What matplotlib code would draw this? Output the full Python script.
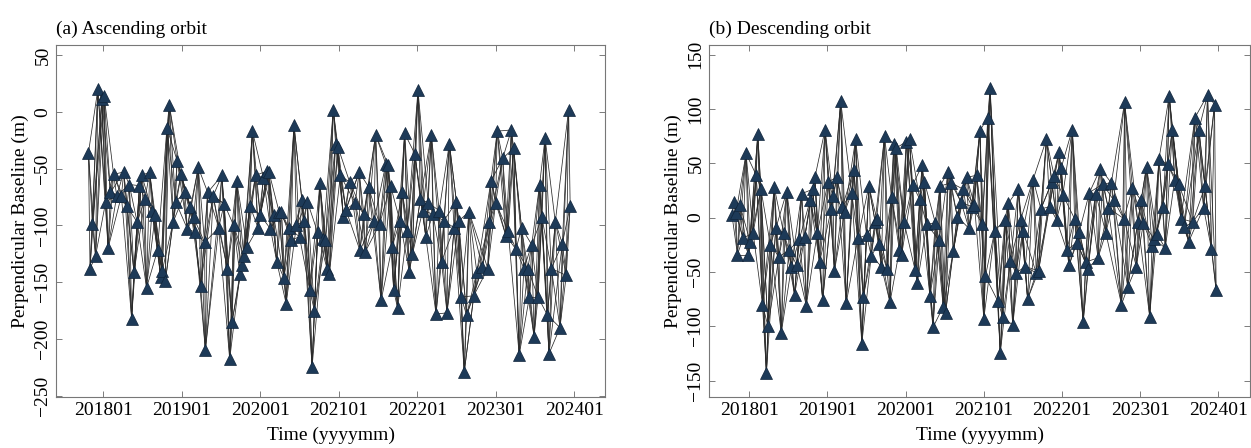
import numpy as np
import matplotlib.pyplot as plt

plt.rcParams['font.family'] = ['Liberation Serif', 'DejaVu Serif']
plt.rcParams['font.size'] = 14

# acquisition dates (decimal year) and perpendicular baselines (m), ascending orbit
asc_time = [2017.81, 2017.83, 2017.86, 2017.90, 2017.93, 2017.98, 2018.01, 2018.03, 2018.06, 2018.09,
            2018.13, 2018.17, 2018.23, 2018.26, 2018.30, 2018.33, 2018.36, 2018.39, 2018.43, 2018.46,
            2018.49, 2018.53, 2018.55, 2018.59, 2018.62, 2018.66, 2018.69, 2018.73, 2018.75, 2018.79,
            2018.81, 2018.84, 2018.89, 2018.92, 2018.94, 2018.99, 2019.04, 2019.07, 2019.11, 2019.15,
            2019.17, 2019.21, 2019.24, 2019.29, 2019.30, 2019.33, 2019.40, 2019.47, 2019.51, 2019.54,
            2019.58, 2019.61, 2019.64, 2019.66, 2019.70, 2019.74, 2019.77, 2019.79, 2019.83, 2019.87,
            2019.90, 2019.94, 2019.97, 2020.00, 2020.04, 2020.09, 2020.11, 2020.13, 2020.17, 2020.21,
            2020.24, 2020.27, 2020.30, 2020.33, 2020.36, 2020.39, 2020.43, 2020.46, 2020.50, 2020.53,
            2020.56, 2020.60, 2020.63, 2020.66, 2020.69, 2020.73, 2020.76, 2020.80, 2020.83, 2020.85,
            2020.88, 2020.93, 2020.96, 2020.99, 2021.02, 2021.06, 2021.09, 2021.14, 2021.21, 2021.26,
            2021.27, 2021.32, 2021.34, 2021.38, 2021.45, 2021.47, 2021.52, 2021.54, 2021.60, 2021.63,
            2021.66, 2021.68, 2021.70, 2021.75, 2021.78, 2021.81, 2021.84, 2021.87, 2021.90, 2021.94,
            2021.97, 2022.01, 2022.04, 2022.07, 2022.11, 2022.14, 2022.18, 2022.20, 2022.24, 2022.28,
            2022.31, 2022.34, 2022.38, 2022.41, 2022.47, 2022.50, 2022.53, 2022.56, 2022.60, 2022.63,
            2022.66, 2022.72, 2022.76, 2022.83, 2022.90, 2022.92, 2022.94, 2023.00, 2023.02, 2023.09,
            2023.13, 2023.16, 2023.20, 2023.23, 2023.26, 2023.30, 2023.33, 2023.36, 2023.41, 2023.43,
            2023.46, 2023.49, 2023.54, 2023.56, 2023.59, 2023.63, 2023.66, 2023.68, 2023.71, 2023.76,
            2023.82, 2023.85, 2023.90, 2023.93, 2023.95]
asc_bperp = [-36, -138, -99, -127, 20, 11, 14, -79, -120, -71,
             -55, -74, -74, -53, -83, -64, -182, -141, -97, -65,
             -56, -77, -155, -53, -87, -91, -122, -145, -140, -149,
             -14, 6, -97, -79, -43, -55, -71, -103, -84, -93,
             -106, -49, -153, -115, -210, -71, -74, -102, -56, -81,
             -138, -218, -185, -100, -61, -143, -135, -127, -119, -83,
             -17, -56, -102, -91, -58, -52, -53, -103, -91, -132,
             -88, -88, -146, -169, -102, -113, -12, -100, -110, -78,
             -96, -79, -157, -225, -175, -106, -63, -112, -113, -138,
             -143, 2, -28, -31, -56, -93, -86, -62, -80, -53,
             -122, -90, -123, -66, -96, -20, -99, -166, -46, -47,
             -65, -119, -157, -173, -96, -71, -19, -105, -141, -125,
             -37, 19, -77, -87, -110, -80, -20, -90, -178, -87,
             -132, -96, -177, -28, -102, -79, -96, -163, -229, -179,
             -88, -162, -141, -137, -138, -97, -61, -80, -17, -41,
             -109, -105, -16, -32, -121, -214, -102, -138, -138, -163,
             -117, -198, -163, -64, -93, -23, -179, -213, -138, -97,
             -190, -116, -144, 2, -83]

# descending orbit
desc_time = [2017.78, 2017.80, 2017.83, 2017.85, 2017.88, 2017.92, 2017.96, 2017.99, 2018.01, 2018.05,
             2018.09, 2018.11, 2018.15, 2018.17, 2018.22, 2018.24, 2018.27, 2018.32, 2018.34, 2018.38,
             2018.41, 2018.44, 2018.48, 2018.51, 2018.54, 2018.58, 2018.61, 2018.64, 2018.67, 2018.71,
             2018.73, 2018.78, 2018.81, 2018.84, 2018.87, 2018.90, 2018.94, 2018.97, 2019.01, 2019.05,
             2019.07, 2019.09, 2019.12, 2019.17, 2019.19, 2019.22, 2019.24, 2019.31, 2019.34, 2019.36,
             2019.39, 2019.44, 2019.46, 2019.50, 2019.53, 2019.56, 2019.61, 2019.63, 2019.66, 2019.69,
             2019.73, 2019.76, 2019.80, 2019.82, 2019.85, 2019.88, 2019.92, 2019.95, 2019.98, 2020.01,
             2020.05, 2020.09, 2020.12, 2020.15, 2020.18, 2020.21, 2020.24, 2020.27, 2020.31, 2020.35,
             2020.38, 2020.43, 2020.44, 2020.48, 2020.51, 2020.54, 2020.58, 2020.61, 2020.66, 2020.71,
             2020.74, 2020.78, 2020.81, 2020.85, 2020.88, 2020.91, 2020.95, 2020.98, 2021.00, 2021.02,
             2021.05, 2021.08, 2021.14, 2021.18, 2021.21, 2021.24, 2021.27, 2021.31, 2021.34, 2021.37,
             2021.41, 2021.44, 2021.47, 2021.50, 2021.53, 2021.56, 2021.63, 2021.67, 2021.70, 2021.73,
             2021.80, 2021.84, 2021.87, 2021.90, 2021.93, 2021.96, 2021.99, 2022.01, 2022.06, 2022.09,
             2022.13, 2022.16, 2022.19, 2022.22, 2022.27, 2022.30, 2022.33, 2022.35, 2022.43, 2022.46,
             2022.49, 2022.52, 2022.56, 2022.59, 2022.63, 2022.66, 2022.76, 2022.79, 2022.80, 2022.84,
             2022.90, 2022.95, 2022.97, 2023.01, 2023.04, 2023.08, 2023.12, 2023.15, 2023.18, 2023.21,
             2023.24, 2023.29, 2023.32, 2023.35, 2023.37, 2023.41, 2023.44, 2023.49, 2023.52, 2023.56,
             2023.62, 2023.67, 2023.70, 2023.75, 2023.81, 2023.83, 2023.86, 2023.91, 2023.95, 2023.97]
desc_bperp = [2, 14, 4, -34, 12, -19, 59, -34, -22, -14,
              39, 77, 26, -80, -143, -100, -25, 28, -10, -36,
              -106, -14, 24, -30, -45, -71, -44, -20, 22, -18,
              -81, 16, 26, 37, -14, -41, -76, 81, 33, 8,
              20, -49, 37, 107, 10, 5, -79, 23, 44, 72,
              -19, -116, -73, -16, 29, -35, -4, -1, -24, -45,
              75, -47, -78, 19, 68, 64, -30, -34, -4, 70,
              72, 30, -48, -60, 17, 48, 33, -6, -72, -101,
              -5, -21, 29, -82, -88, 42, 32, -31, 1, 14,
              26, 37, -10, 10, 12, 39, 80, -6, -93, -54,
              92, 119, -12, -77, -125, -91, -2, 13, -40, -99,
              -51, 26, -2, -12, -45, -75, 35, -51, -49, 8,
              72, 10, 33, 38, -2, 60, 46, 21, -30, -44,
              81, -1, -23, -13, -96, -41, -47, 23, 22, -37,
              45, 31, -14, 9, 32, 16, -80, -1, 106, -64,
              27, -45, -4, 16, -5, 47, -91, -26, -20, -15,
              54, 10, -28, 49, 112, 81, 35, 31, -1, -9,
              -22, -4, 92, 81, 9, 29, 113, -29, 104, -67]

tick_years = [2018, 2019, 2020, 2021, 2022, 2023, 2024]
tick_labels = ['201801', '201901', '202001', '202101', '202201', '202301', '202401']

n_links = 4  # each acquisition paired with the next few acquisitions

fig = plt.figure(figsize=(12.51, 4.48), dpi=100)
ax1 = fig.add_axes([0.045, 0.114, 0.439, 0.786])
ax2 = fig.add_axes([0.567, 0.114, 0.432, 0.786])


def draw_network(ax, t, b):
    t = np.array(t)
    b = np.array(b)
    for i in range(len(t)):
        for j in range(i + 1, min(i + 1 + n_links, len(t))):
            ax.plot([t[i], t[j]], [b[i], b[j]], color='#2a2a2a', lw=0.55, zorder=2)
    ax.plot(t, b, '^', ms=8.5, mfc='#1d3a58', mec='#10243a', mew=0.5, zorder=3)


draw_network(ax1, asc_time, asc_bperp)
draw_network(ax2, desc_time, desc_bperp)

for ax in (ax1, ax2):
    ax.set_xticks(tick_years)
    ax.set_xticklabels(tick_labels)
    ax.tick_params(direction='in', top=True, right=True, length=4, width=0.6, color='#666666')
    for s in ax.spines.values():
        s.set_color('#777777')
        s.set_linewidth(0.8)
    ax.set_xlabel('Time (yyyymm)', labelpad=6)
    ax.set_ylabel('Perpendicular Baseline (m)', labelpad=4)

ax1.set_xlim(2017.40, 2024.40)
ax1.set_ylim(-251, 59)
ax1.set_yticks([50, 0, -50, -100, -150, -200, -250])
ax2.set_xlim(2017.49, 2024.40)
ax2.set_ylim(-165, 159)
ax2.set_yticks([150, 100, 50, 0, -50, -100, -150])

for ax in (ax1, ax2):
    plt.setp(ax.get_yticklabels(), rotation=90, va='center')

ax1.set_title('(a) Ascending orbit', loc='left', fontsize=14, pad=8)
ax2.set_title('(b) Descending orbit', loc='left', fontsize=14, pad=8)

fig.savefig('out.png', dpi=100)
